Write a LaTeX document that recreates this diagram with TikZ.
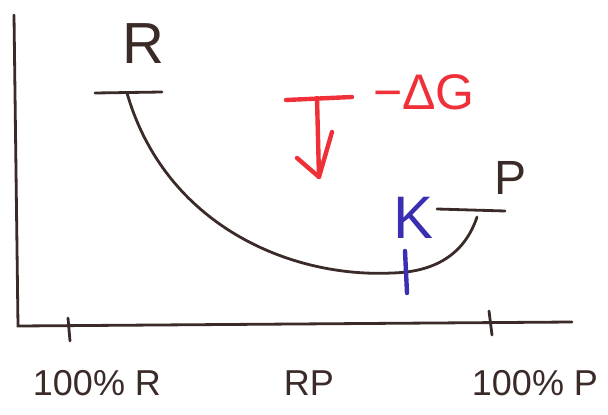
\documentclass[tikz,border=0pt]{standalone}
\usepackage{fontspec}
\setmainfont{Liberation Sans}
\definecolor{ink}{HTML}{3A2A28}
\definecolor{redink}{HTML}{F03038}
\definecolor{blueink}{HTML}{3A2FB0}
\begin{document}
\begin{tikzpicture}[x=1pt,y=-1pt,
  axis/.style={draw=ink,line width=2.8pt,line cap=round},
  curve/.style={draw=ink,line width=2.8pt,line cap=round},
  lbl/.style={inner sep=0pt,text=ink},
  red/.style={draw=redink,line width=4.4pt,line cap=round,line join=round},
  blue/.style={draw=blueink,line width=4.4pt,line cap=round}]
\useasboundingbox (0,0) rectangle (608,415);
% axes
\coordinate (ytop) at (14,15);
\coordinate (origin) at (18,326);
\coordinate (xend) at (572,322);
\draw[axis] (ytop) -- (origin) -- (xend);
\coordinate (t1a) at (68,318); \coordinate (t1b) at (70,341);
\coordinate (t2a) at (489,311); \coordinate (t2b) at (492,335);
\draw[axis] (t1a) -- (t1b);
\draw[axis] (t2a) -- (t2b);
% axis labels
\node[lbl,font=\fontsize{36}{36}\selectfont] (lr) at (97,383) {100\% R};
\node[lbl,font=\fontsize{36}{36}\selectfont] (lrp) at (309,383) {RP};
\node[lbl,font=\fontsize{36}{36}\selectfont] (lp) at (535,383) {100\% P};
% R level
\node[lbl,font=\fontsize{58}{58}\selectfont] (R) at (143,44) {R};
\coordinate (ra) at (95,93); \coordinate (rb) at (162,92);
\draw[curve] (ra) -- (rb);
\coordinate (rs) at (127,93);
% P level
\node[lbl,font=\fontsize{48}{48}\selectfont] (P) at (511,178) {P};
\coordinate (pa) at (437,209); \coordinate (pb) at (505,211);
\draw[curve] (pa) -- (pb);
\coordinate (pe) at (477,217);
% reaction curve
\coordinate (ts) at (392,273);
\draw[curve] (rs) .. controls (165,225) and (290,278) .. (ts)
  .. controls (440,272) and (466,250) .. (pe);
% K and its tick
\node[lbl,text=blueink,font=\fontsize{60}{60}\selectfont] (K) at (414,218) {K};
\coordinate (ka) at (405,251); \coordinate (kb) at (407,293);
\draw[blue] (ka) -- (kb);
% red arrow
\coordinate (ha) at (286,100); \coordinate (hb) at (352,97);
\coordinate (va) at (317,98); \coordinate (vb) at (319,177);
\coordinate (al) at (297,158); \coordinate (ar) at (332,132);
\draw[red] (ha) -- (hb);
\draw[red] (va) -- (vb);
\draw[red] (al) -- (vb) -- (ar);
\node[lbl,text=redink,font=\fontsize{50}{50}\selectfont] (dg) at (424,92) {−ΔG};
\end{tikzpicture}
\end{document}
